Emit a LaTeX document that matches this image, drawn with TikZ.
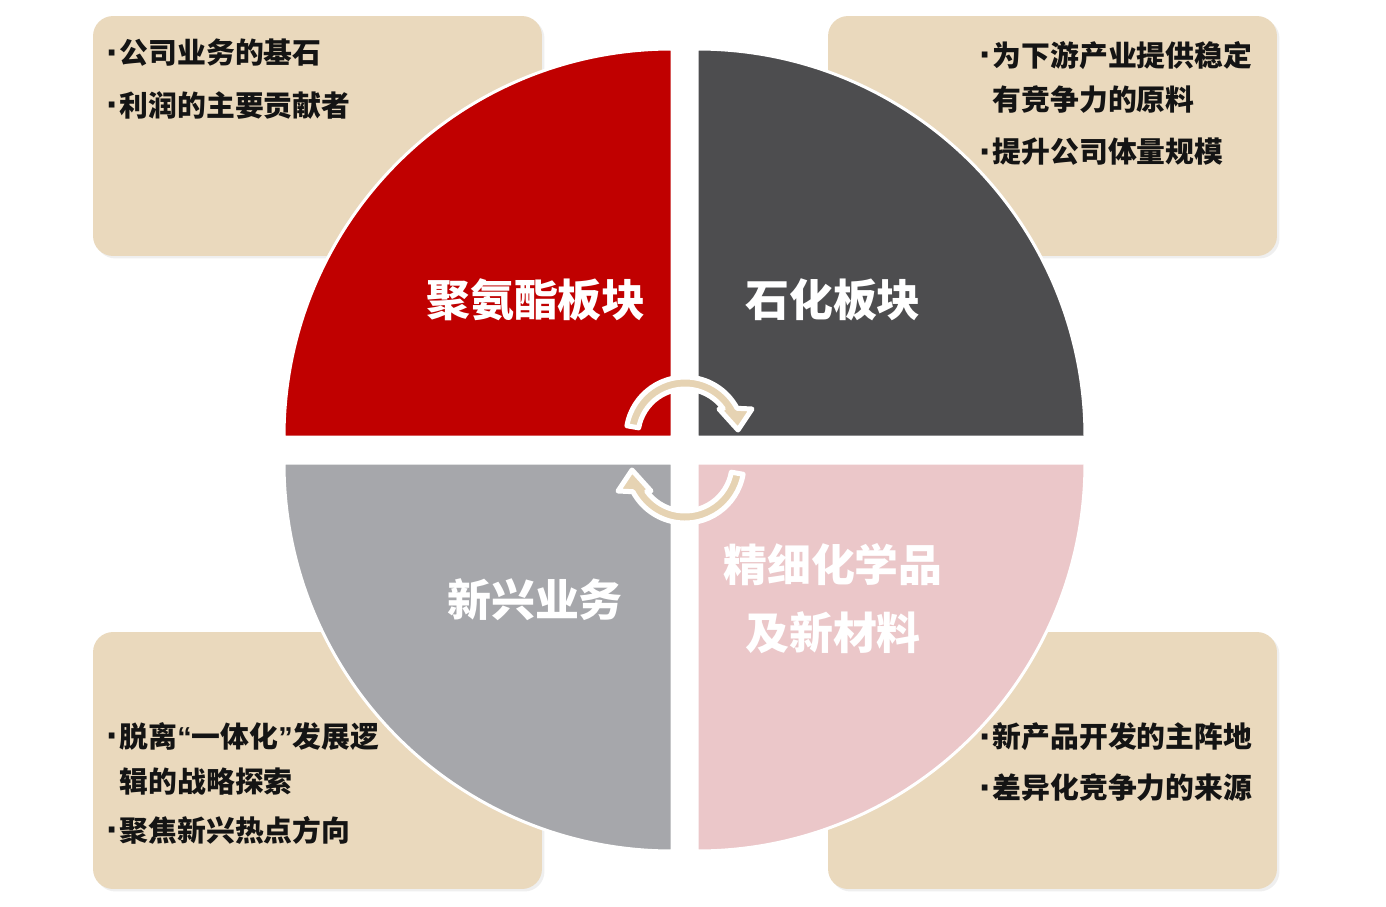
\documentclass[tikz,border=0pt]{standalone}
\usepackage{fontspec}
\setmainfont{Noto Sans CJK SC}
\newfontfamily\latinfont{Liberation Sans}
\usetikzlibrary{shadows}
\definecolor{pured}{HTML}{C00000}
\definecolor{petrogray}{HTML}{4D4D4F}
\definecolor{newgray}{HTML}{A6A7AB}
\definecolor{finepink}{HTML}{EBC7C9}
\definecolor{boxbeige}{HTML}{EAD9BD}
\definecolor{arrowbeige}{HTML}{E6D3B3}
\newcommand{\dotmark}{\makebox[0.27cm][c]{\raisebox{-1.5pt}{\latinfont\bfseries\fontsize{23}{0}\selectfont ·}}}
\newcommand{\nodot}{\hspace*{0.27cm}}
\begin{document}
\begin{tikzpicture}[x=0.02cm, y=0.02cm,
  infobox/.style={fill=boxbeige, rounded corners=0.4cm, inner sep=0pt,
    minimum width=8.98cm, drop shadow={opacity=0.12, shadow xshift=0.05cm, shadow yshift=-0.05cm}},
  wedge/.style={draw=white, line width=0.06cm},
  cyclearrow/.style={fill=arrowbeige, draw=white, line width=0.1cm, line join=round},
  sector/.style={text=white, align=center, inner sep=0pt, font=\fontsize{25}{38.6}\selectfont\bfseries},
  bullet/.style={anchor=west, align=left, inner sep=0pt, text=black!92, font=\fontsize{16.4}{25.5}\selectfont\bfseries}]
  \useasboundingbox (0,0) rectangle (1386,-906);
  \fill[white] (0,0) rectangle (1386,-906);

  % Boxes
  \node[infobox, minimum height=4.8cm] (pubox) at (317.5,-136) {};
  \node[infobox, minimum height=4.8cm] (petrobox) at (1052.5,-136) {};
  \node[infobox, minimum height=5.14cm] (newbox) at (317.5,-760.5) {};
  \node[infobox, minimum height=5.14cm] (finebox) at (1052.5,-760.5) {};

  % Quarters
  \fill[pured, wedge] (672,-437) -- ++(0,388) arc[start angle=90, end angle=180, radius=388] -- cycle;
  \fill[petrogray, wedge] (697,-437) -- ++(388,0) arc[start angle=0, end angle=90, radius=388] -- cycle;
  \fill[newgray, wedge] (672,-463) -- ++(-388,0) arc[start angle=180, end angle=270, radius=388] -- cycle;
  \fill[finepink, wedge] (697,-463) -- ++(0,-388) arc[start angle=270, end angle=360, radius=388] -- cycle;

  % Cycle arrows
  \foreach \cy/\rot in {-436/0, -464/180} {
    \begin{scope}[shift={(685,\cy)}, rotate=\rot]
      \filldraw[cyclearrow] (170:59) arc[start angle=170, end angle=28, radius=59]
        -- (67,27) -- (53,6) -- (34,27) -- (35.5:47)
        arc[start angle=35.5, end angle=170, radius=47] -- cycle;
    \end{scope}
  }

  % Sector labels
  \node[sector] (pu) at (536,-300) {聚氨酯板块};
  \node[sector] (petro) at (833,-300) {石化板块};
  \node[sector] (newbiz) at (535,-600) {新兴业务};
  \node[sector] (fine) at (833,-599) {精细化学品\\及新材料};

  % Bullets
  \node[bullet] (pu1) at (106,-53) {\dotmark 公司业务的基石};
  \node[bullet] (pu2) at (106,-105) {\dotmark 利润的主要贡献者};
  \node[bullet] (petro1) at (979,-77.5) {\dotmark 为下游产业提供稳定\\\nodot 有竞争力的原料};
  \node[bullet] (petro2) at (979,-152) {\dotmark 提升公司体量规模};
  \node[bullet] (new1) at (106,-758.5) {\dotmark 脱离{\latinfont“}一体化{\latinfont”}发展逻\\\nodot 辑的战略探索};
  \node[bullet] (new2) at (106,-830) {\dotmark 聚焦新兴热点方向};
  \node[bullet] (fine1) at (979,-737) {\dotmark 新产品开发的主阵地};
  \node[bullet] (fine2) at (979,-788) {\dotmark 差异化竞争力的来源};
\end{tikzpicture}
\end{document}
